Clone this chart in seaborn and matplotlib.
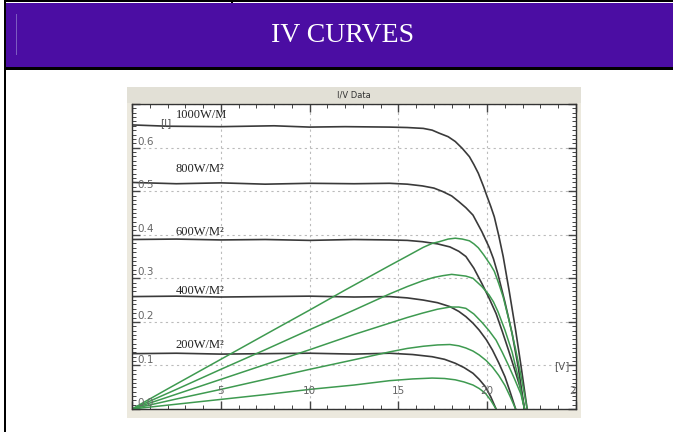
import numpy as np
import pandas as pd
import seaborn as sns
import matplotlib
matplotlib.use("Agg")
import matplotlib.pyplot as plt
from matplotlib.patches import Rectangle

# irradiance levels (W/m2)
irradiance = [1000, 800, 600, 400, 200]
curve_labels = ["1000W/M", "800W/M\u00b2", "600W/M\u00b2", "400W/M\u00b2", "200W/M\u00b2"]
label_y = [0.675, 0.551, 0.406, 0.271, 0.147]

# I-V curves (volts, amps)
v_1000 = [0, 2, 5, 8, 10, 12, 14.5, 15.5, 16.4, 16.9, 17.3, 17.8, 18.2, 18.6, 19.0, 19.25, 19.5,
          19.8, 20.0, 20.2, 20.4, 20.65, 20.9, 21.25, 21.6, 21.9, 22.25]
i_1000 = [0.652, 0.649, 0.648, 0.650, 0.647, 0.648, 0.647, 0.646, 0.644, 0.640, 0.633, 0.625, 0.614,
          0.598, 0.579, 0.561, 0.541, 0.510, 0.487, 0.465, 0.441, 0.398, 0.350, 0.268, 0.181, 0.100, 0.0]
v_800 = [0, 2.5, 5, 7.5, 10, 12.5, 14.5, 15.5, 16.35, 17.0, 17.5, 18.0, 18.4, 18.8, 19.2, 19.7,
         20.1, 20.35, 20.6, 21.0, 21.4, 21.75, 22.1]
i_800 = [0.520, 0.517, 0.519, 0.516, 0.518, 0.517, 0.518, 0.516, 0.512, 0.507, 0.499, 0.489, 0.476,
         0.462, 0.445, 0.407, 0.372, 0.345, 0.310, 0.245, 0.174, 0.095, 0.0]
v_600 = [0, 2.5, 5, 7.5, 10, 12.5, 14.5, 15.5, 16.35, 17.2, 17.9, 18.4, 18.8, 19.25, 19.7, 20.1,
         20.5, 20.85, 21.2, 21.55, 21.9, 22.1]
i_600 = [0.389, 0.390, 0.388, 0.389, 0.387, 0.389, 0.388, 0.387, 0.384, 0.379, 0.372, 0.362, 0.350,
         0.323, 0.288, 0.255, 0.219, 0.178, 0.135, 0.090, 0.044, 0.0]
v_400 = [0, 2.5, 5, 7.5, 10, 12.5, 14.5, 15.5, 16.4, 17.2, 17.9, 18.4, 18.8, 19.2, 19.55, 19.95,
         20.3, 20.65, 21.0, 21.3, 21.6]
i_400 = [0.258, 0.259, 0.257, 0.258, 0.259, 0.257, 0.258, 0.255, 0.250, 0.244, 0.235, 0.224, 0.212,
         0.197, 0.181, 0.159, 0.135, 0.106, 0.074, 0.038, 0.0]
v_200 = [0, 2.5, 5, 7.5, 10, 12.5, 14.5, 15.8, 16.9, 17.6, 18.2, 18.7, 19.2, 19.55, 19.9, 20.2, 20.5]
i_200 = [0.127, 0.128, 0.126, 0.127, 0.128, 0.126, 0.128, 0.125, 0.120, 0.114, 0.105, 0.095, 0.082,
         0.068, 0.051, 0.028, 0.0]

# power curves (green), in the same plot units, at the voltages above
p_1000 = [0, 0.046, 0.114, 0.182, 0.227, 0.273, 0.329, 0.351, 0.371, 0.380, 0.384, 0.390, 0.392,
          0.390, 0.386, 0.379, 0.370, 0.354, 0.342, 0.330, 0.316, 0.288, 0.257, 0.200, 0.137, 0.077, 0.0]
p_800 = [0, 0.045, 0.091, 0.136, 0.182, 0.227, 0.264, 0.281, 0.294, 0.302, 0.306, 0.309, 0.307,
         0.305, 0.300, 0.281, 0.262, 0.246, 0.224, 0.181, 0.131, 0.072, 0.0]
p_600 = [0, 0.034, 0.068, 0.102, 0.136, 0.171, 0.197, 0.210, 0.220, 0.229, 0.234, 0.234, 0.231,
         0.218, 0.199, 0.180, 0.158, 0.130, 0.100, 0.068, 0.034, 0.0]
p_400 = [0, 0.023, 0.045, 0.068, 0.091, 0.113, 0.131, 0.139, 0.144, 0.147, 0.148, 0.145, 0.140,
         0.133, 0.124, 0.111, 0.096, 0.077, 0.054, 0.028, 0.0]
p_200 = [0, 0.011, 0.022, 0.033, 0.045, 0.055, 0.065, 0.069, 0.071, 0.070, 0.067, 0.062, 0.055,
         0.047, 0.036, 0.020, 0.0]

volts = [v_1000, v_800, v_600, v_400, v_200]
amps = [i_1000, i_800, i_600, i_400, i_200]
powers = [p_1000, p_800, p_600, p_400, p_200]

rows = []
for irr, v, i, p in zip(irradiance, volts, amps, powers):
    for a, b, c in zip(v, i, p):
        rows.append({"irr": irr, "V": a, "I": b, "P": c})
df = pd.DataFrame(rows)

W, H = 673, 432
PURPLE = "#4B0DA3"
DARK = "#3A3A3A"
GREEN = "#3E9A50"

fig = plt.figure(figsize=(W / 100, H / 100), dpi=100)


def rect(x0, y0, x1, y1, color, **kw):
    # pixel box, measured from the top-left corner
    fig.add_artist(Rectangle((x0 / W, 1 - y1 / H), (x1 - x0) / W, (y1 - y0) / H,
                             transform=fig.transFigure, facecolor=color,
                             edgecolor="none", zorder=-5, **kw))


# page chrome: header band and table borders
rect(4, 0, W, 2, "black")
rect(231, 0, 233, 3, "black")
rect(6, 3, W, 67, PURPLE)
rect(4, 67, W, 70, "black")
rect(4, 0, 6, H, "black")
rect(16, 14, 17, 55, "#7C5BC0")
fig.text(343 / W, 1 - 36 / H, "IV CURVES", color="white", fontsize=20,
         family="Liberation Serif", ha="center", va="center")

# plot window frame
rect(127, 87, 581, 418, "#ECE9DE")
rect(127, 87, 581, 103, "#E2E0D6")
fig.text(354 / W, 1 - 95 / H, "I/V Data", fontsize=6, color="#333333",
         ha="center", va="center")

ax = fig.add_axes([132 / W, 1 - 409 / H, 444 / W, 305 / H])
ax.set_zorder(2)
ax.set_facecolor("white")

sns.lineplot(data=df, x="V", y="I", hue="irr", palette={k: DARK for k in irradiance},
             estimator=None, sort=False, legend=False, lw=1.2, ax=ax)
sns.lineplot(data=df, x="V", y="P", hue="irr", palette={k: GREEN for k in irradiance},
             estimator=None, sort=False, legend=False, lw=1.1, ax=ax)

ax.set_xlim(0, 25)
ax.set_ylim(0, 0.7)
ax.set_xlabel("")
ax.set_ylabel("")
ax.set_xticks(np.arange(0, 26, 5))
ax.set_xticks(np.arange(0, 26, 1), minor=True)
ax.set_yticks(np.arange(0, 0.71, 0.1))
ax.set_yticks(np.arange(0, 0.705, 0.01), minor=True)
ax.tick_params(which="both", direction="in", top=True, right=True,
               labelbottom=False, labelleft=False, color="#444444")
ax.tick_params(which="major", length=6, width=1)
ax.tick_params(which="minor", length=3, width=0.7)
ax.grid(True, which="major", ls=(0, (2, 3)), color="#BBBBBB", lw=0.8)
for s in ax.spines.values():
    s.set_color("#333333")
    s.set_linewidth(1)

# tick labels sit inside the plot, like the original software
for y in np.arange(0, 0.65, 0.1):
    ax.text(0.3, y + 0.002, f"{y:.1f}", fontsize=7.5, color="#666666",
            ha="left", va="bottom")
for x in [5, 10, 15, 20, 25]:
    ax.text(x, 0.041, str(x), fontsize=7.5, color="#666666",
            ha="center", va="center", clip_on=True)

for lab, y in zip(curve_labels, label_y):
    ax.text(2.45, y, lab, fontsize=9, family="Liberation Serif",
            color="#222222", ha="left", va="center")
ax.text(1.6, 0.657, "[I]", fontsize=7.5, color="#555555", ha="left", va="center")
ax.text(24.2, 0.099, "[V]", fontsize=7.5, color="#555555", ha="center", va="center")

fig.savefig("out.png", dpi=100)
